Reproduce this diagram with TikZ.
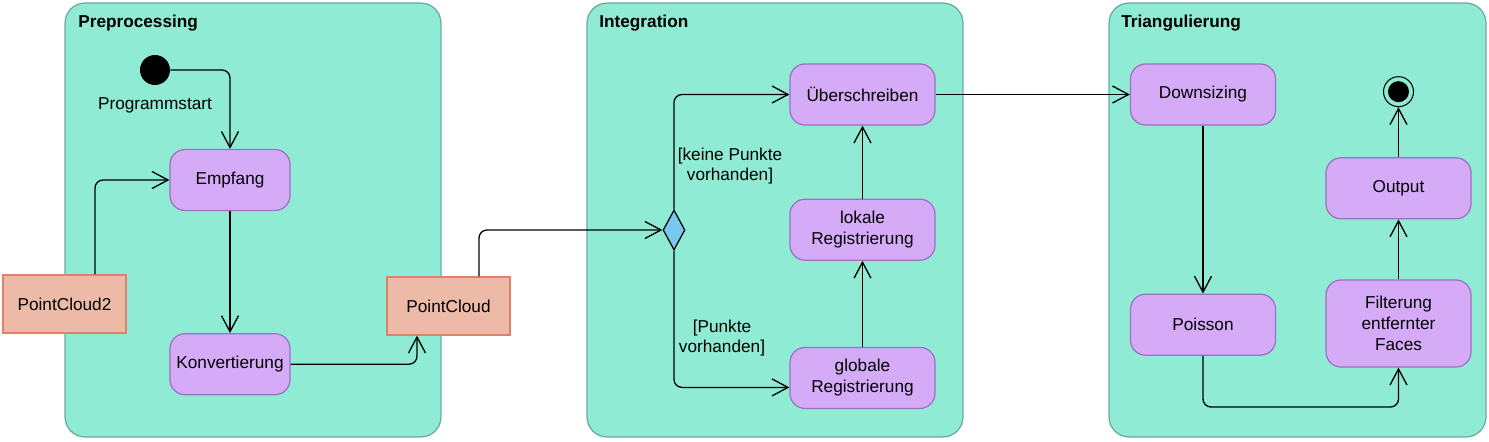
\documentclass[tikz,border=0pt]{standalone}
\usepackage{fontspec}
\setmainfont{Liberation Sans}
\usepackage{xcolor}
\usepackage{tikz}
\usetikzlibrary{positioning,shapes.geometric,arrows.meta}
\definecolor{laneFill}{HTML}{8FEBD3}
\definecolor{laneLine}{HTML}{67AB9F}
\definecolor{actFill}{HTML}{D5ABF7}
\definecolor{actLine}{HTML}{9F6FC3}
\definecolor{objFill}{HTML}{EDBAA8}
\definecolor{objLine}{HTML}{E0806A}
\definecolor{decFill}{HTML}{78C8F0}

\begin{document}
\begin{tikzpicture}[x=0.02cm,y=-0.02cm,font=\fontsize{9.8}{11.9}\selectfont,
lane/.style={rectangle,rounded corners=0.4cm,draw=laneLine,fill=laneFill,line width=0.7pt,
minimum width=7.52cm,minimum height=8.68cm},
lanetitle/.style={anchor=west,inner sep=0pt,font=\fontsize{9.8}{11.9}\selectfont\bfseries},
action/.style={rectangle,rounded corners=0.3cm,draw=actLine,fill=actFill,line width=0.7pt,
align=center,inner sep=2pt,minimum width=2.9cm,minimum height=1.22cm},
object/.style={rectangle,draw=objLine,fill=objFill,line width=0.7pt,
minimum width=2.46cm,minimum height=1.16cm},
decision/.style={diamond,draw=black,fill=decFill,line width=0.7pt,
inner sep=0pt,minimum width=0.44cm,minimum height=0.8cm},
startdot/.style={circle,fill=black,inner sep=0pt,minimum size=0.6cm},
enddot/.style={circle,draw=black,line width=0.6pt,inner sep=0pt,minimum size=0.6cm,
path picture={\fill[black] (path picture bounding box.center) circle (0.21cm);}},
guard/.style={align=center,inner sep=0pt},
flow/.style={->,line width=0.75pt,rounded corners=0.16cm},
>={Straight Barb[length=0.32cm,width=0.34cm]}]
    \useasboundingbox (0,0) rectangle (1489,441);
    % swimlanes
    \node[lane] (Pre lane) at (253,220) {};
    \node[lane] (Int lane) at (775,220) {};
    \node[lane,minimum width=7.54cm] (Tri lane) at (1297.5,220) {};
    \node[lanetitle] (Pre title) at (78,23.5) {Preprocessing};
    \node[lanetitle] (Int title) at (599,23.5) {Integration};
    \node[lanetitle] (Tri title) at (1121,23.5) {Triangulierung};
    % preprocessing
    \node[startdot] (Node start) at (155,70) {};
    \node (Start label) at (155,105) {Programmstart};
    \node[action,minimum width=2.4cm] (Node empfang) at (230,180) {Empfang};
    \node[action,minimum width=2.4cm] (Node konv) [below=2.44cm of Node empfang] {Konvertierung};
    \node[object] (Node pc2) at (64.5,304) {PointCloud2};
    \node[object] (Node pc) at (448.5,306) {PointCloud};
    % integration
    \node[decision] (Node choice) at (674,230) {};
    \node[action] (Node ueber) at (862.5,94.5) {Überschreiben};
    \node[action] (Node lokal) [below=1.46cm of Node ueber] {lokale\\Registrierung};
    \node[action] (Node global) [below=1.72cm of Node lokal] {globale\\Registrierung};
    \node[guard] (Guard none) at (730,166) {[keine Punkte\\vorhanden]};
    \node[guard] (Guard some) at (722,338) {[Punkte\\vorhanden]};
    % triangulierung
    \node[action] (Node down) at (1203,94.5) {Downsizing};
    \node[action] (Node poisson) [below=3.36cm of Node down] {Poisson};
    \node[action,minimum height=1.74cm] (Node filter) at (1398.5,323.5) {Filterung\\entfernter\\Faces};
    \node[action] (Node output) [above=1.2cm of Node filter] {Output};
    \node[enddot] (Node end) [above=1.0cm of Node output] {};
    \coordinate (Turn low) at (1203,407);
    % connectors
    \draw[flow] (Node start) -| (Node empfang);
    \draw[flow] ([xshift=0.61cm]Node pc2.north) |- (Node empfang);
    \draw[flow] (Node empfang) to (Node konv);
    \draw[flow] (Node konv) -| ([xshift=-0.63cm]Node pc.south);
    \draw[flow] ([xshift=0.61cm]Node pc.north) |- (Node choice);
    \draw[flow] (Node choice) |- (Node ueber);
    \draw[flow] (Node choice) |- ([yshift=-0.19cm]Node global.west);
    \draw[flow] (Node global) to (Node lokal);
    \draw[flow] (Node lokal) to (Node ueber);
    \draw[flow] (Node ueber) to (Node down);
    \draw[flow] (Node down) to (Node poisson);
    \draw[flow] (Node poisson) -- (Turn low) -| (Node filter);
    \draw[flow] (Node filter) to (Node output);
    \draw[flow] (Node output) to (Node end);
\end{tikzpicture}
\end{document}
